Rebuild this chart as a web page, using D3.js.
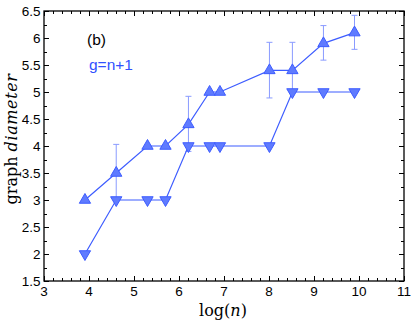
<!DOCTYPE html>
<html><head><meta charset="utf-8">
<script src="https://cdn.jsdelivr.net/npm/d3@7"></script>
<style>body{margin:0;background:#fff}svg{display:block}</style>
</head><body>
<script>
// data
const logN = [3.91, 4.605, 5.30, 5.70, 6.21, 6.68, 6.91, 8.01, 8.52, 9.21, 9.90];
const meanDiam = [3.0, 3.5, 4.0, 4.0, 4.4, 5.0, 5.0, 5.4, 5.4, 5.9, 6.1];
const errLow = [3.0, 2.98, 4.0, 4.0, 3.9, 5.0, 5.0, 4.89, 5.0, 5.59, 5.79];
const errHigh = [3.0, 4.03, 4.0, 4.0, 4.92, 5.0, 5.0, 5.92, 5.92, 6.23, 6.42];
const minDiam = [2, 3, 3, 3, 4, 4, 4, 4, 5, 5, 5];
const xTicks = [3, 4, 5, 6, 7, 8, 9, 10, 11];
const yTicks = [1.5, 2, 2.5, 3, 3.5, 4, 4.5, 5, 5.5, 6, 6.5];

const W = 415, H = 321;
const m = {l: 44, t: 11, r: 11, b: 40};
const svg = d3.select("body").append("svg").attr("width", W).attr("height", H);
const x = d3.scaleLinear().domain([3, 11]).range([m.l, W - m.r]);
const y = d3.scaleLinear().domain([1.5, 6.5]).range([H - m.b, m.t]);

const blue = "#3d5cff";
const fill = "#5f7bff";
const errC = "#8a9bff";

// minor ticks
const xMinor = d3.range(3, 11.001, 0.2);
const yMinor = d3.range(1.5, 6.501, 0.25);
const g = svg.append("g").attr("stroke", "#000").attr("stroke-width", 1);
xMinor.forEach(v => {
  const major = Math.abs(v - Math.round(v)) < 1e-6;
  const L = major ? 5 : 3;
  const px = Math.round(x(v)) + 0.5;
  g.append("line").attr("x1", px).attr("x2", px).attr("y1", y(1.5)).attr("y2", y(1.5) - L);
  g.append("line").attr("x1", px).attr("x2", px).attr("y1", y(6.5)).attr("y2", y(6.5) + L);
});
yMinor.forEach(v => {
  const major = Math.abs(v * 2 - Math.round(v * 2)) < 1e-6;
  const L = major ? 5 : 3;
  const py = Math.round(y(v)) + 0.5;
  g.append("line").attr("y1", py).attr("y2", py).attr("x1", x(3)).attr("x2", x(3) + L);
  g.append("line").attr("y1", py).attr("y2", py).attr("x1", x(11)).attr("x2", x(11) - L);
});
svg.append("rect").attr("x", x(3)).attr("y", y(6.5)).attr("width", x(11) - x(3)).attr("height", y(1.5) - y(6.5))
  .attr("fill", "none").attr("stroke", "#000").attr("stroke-width", 1.3);

// tick labels
const tf = "'Liberation Sans', Arial, sans-serif";
svg.append("g").selectAll("text").data(xTicks).join("text")
  .attr("x", d => x(d)).attr("y", 296).attr("text-anchor", "middle")
  .attr("font-family", tf).attr("font-size", 13.5).text(d => d);
svg.append("g").selectAll("text").data(yTicks).join("text")
  .attr("x", 40.5).attr("y", d => y(d) + 5).attr("text-anchor", "end")
  .attr("font-family", tf).attr("font-size", 13.5).text(d => d);

// axis labels
const sf = "'DejaVu Serif', 'Liberation Serif', serif";
const xl = svg.append("text").attr("x", 223).attr("y", 316).attr("text-anchor", "middle")
  .attr("font-family", sf).attr("font-size", 16);
xl.append("tspan").text("log(");
xl.append("tspan").attr("font-style", "italic").text("n");
xl.append("tspan").text(")");
const yl = svg.append("text").attr("transform", `translate(17,139) rotate(-90)`).attr("text-anchor", "middle")
  .attr("font-family", sf).attr("font-size", 16);
yl.append("tspan").text("graph ");
yl.append("tspan").attr("font-style", "italic").attr("letter-spacing", 0.6).text("diameter");

// annotations
svg.append("text").attr("x", 87).attr("y", 45).attr("font-family", tf).attr("font-size", 15.5).text("(b)");
svg.append("text").attr("x", 89).attr("y", 70).attr("font-family", tf).attr("font-size", 15.5).attr("fill", "#3050ff").text("g=n+1");

// error bars
const eb = svg.append("g").attr("stroke", errC).attr("stroke-width", 1);
logN.forEach((v, i) => {
  if (errHigh[i] - errLow[i] < 0.01) return;
  const px = x(v);
  eb.append("line").attr("x1", px).attr("x2", px).attr("y1", y(errLow[i])).attr("y2", y(errHigh[i]));
  [errLow[i], errHigh[i]].forEach(e => {
    eb.append("line").attr("x1", px - 3).attr("x2", px + 3).attr("y1", y(e)).attr("y2", y(e));
  });
});

// lines
const lineGen = d3.line().x(d => x(d[0])).y(d => y(d[1]));
svg.append("path").datum(logN.map((v, i) => [v, minDiam[i]])).attr("d", lineGen)
  .attr("fill", "none").attr("stroke", blue).attr("stroke-width", 1.2);
svg.append("path").datum(logN.map((v, i) => [v, meanDiam[i]])).attr("d", lineGen)
  .attr("fill", "none").attr("stroke", blue).attr("stroke-width", 1.2);

// markers
const up = d3.symbol().type(d3.symbolTriangle).size(55);
svg.append("g").selectAll("path").data(logN).join("path")
  .attr("d", up).attr("transform", (d, i) => `translate(${x(d)},${y(meanDiam[i])})`)
  .attr("fill", fill).attr("stroke", blue).attr("stroke-width", 1);
svg.append("g").selectAll("path").data(logN).join("path")
  .attr("d", up).attr("transform", (d, i) => `translate(${x(d)},${y(minDiam[i])}) rotate(180)`)
  .attr("fill", fill).attr("stroke", blue).attr("stroke-width", 1);
</script>
</body></html>
